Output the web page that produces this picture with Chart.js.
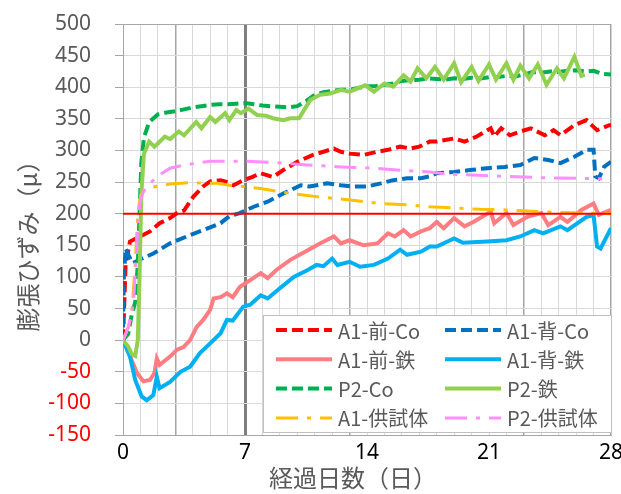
<!DOCTYPE html>
<html>
<head>
<meta charset="utf-8">
<script src="https://cdn.jsdelivr.net/npm/chart.js@4.4.1/dist/chart.umd.min.js"></script>
<style>
  html, body { margin: 0; background: #fff; }
  #wrap { width: 621px; height: 494px; position: relative; }
</style>
</head>
<body>
<div id="wrap"><canvas id="chart"></canvas></div>
<script>
// elapsed days / strain values
const a1FrontCoDays = [0, 0.15, 0.4, 1.0, 1.55, 2.1, 2.7, 3.1, 3.5, 4.04, 4.6, 5.0, 5.6, 6.0, 6.34, 6.9, 7.4, 7.9, 8.6, 9.2, 10, 10.9, 11.5, 12.1, 12.5, 13, 13.8, 14.6, 15.2, 15.9, 16.5, 17.0, 17.6, 18, 19, 19.6, 20.3, 21.1, 21.3, 21.7, 22.2, 22.8, 23.4, 24.2, 24.7, 25.1, 25.9, 26.6, 27.2, 27.9, 28];
const a1FrontCoVals = [0, 120, 156, 164, 172, 185, 193, 201, 205, 227, 243, 251, 253, 250, 245, 253, 258, 264, 258, 269, 282, 293, 298, 303, 298, 295, 293, 298, 301, 306, 303, 306, 314, 314, 319, 314, 322, 335, 322, 335, 324, 330, 335, 324, 332, 324, 340, 348, 332, 340, 340];

const a1BackCoDays = [0, 0.05, 0.15, 0.3, 0.55, 0.8, 1.0, 1.74, 2.7, 3.66, 4.6, 5.6, 6.1, 6.7, 7.1, 7.5, 8.3, 9.2, 10.2, 10.7, 11.7, 12.5, 13.2, 14, 14.8, 15.5, 16.3, 17.1, 17.6, 18, 19, 19.9, 20.9, 21.9, 22.8, 23.6, 24.4, 25.1, 25.9, 26.6, 27.0, 27.1, 27.3, 27.6, 28];
const a1BackCoVals = [20, 100, 145, 135, 122, 125, 128, 137, 153, 164, 174, 185, 196, 201, 206, 211, 219, 232, 245, 243, 248, 245, 243, 243, 248, 253, 256, 256, 259, 264, 266, 269, 272, 274, 277, 288, 285, 280, 290, 301, 301, 259, 256, 274, 282];

const a1FrontFeDays = [0, 0.4, 0.8, 1.17, 1.55, 1.8, 1.94, 2.1, 2.7, 3.1, 3.47, 3.85, 4.23, 4.6, 5.0, 5.2, 5.6, 5.96, 6.3, 6.7, 7.3, 7.9, 8.3, 8.8, 9.6, 10.6, 11.3, 12.1, 12.5, 13, 13.8, 14.6, 15.2, 15.6, 16.1, 16.5, 17.1, 17.6, 18, 18.4, 19, 19.6, 20.1, 21.1, 21.3, 22, 22.4, 23.2, 24, 24.4, 25.1, 25.5, 26.3, 27, 27.3, 28];
const a1FrontFeVals = [0, -25, -52, -65, -63, -52, -29, -39, -26, -15, -11, 0, 21, 32, 48, 66, 68, 74, 68, 84, 95, 106, 98, 111, 127, 142, 153, 164, 153, 158, 150, 153, 169, 164, 174, 164, 172, 177, 187, 177, 193, 180, 187, 203, 185, 201, 182, 195, 201, 182, 195, 187, 206, 216, 198, 206];

const a1BackFeDays = [0, 0.4, 0.7, 1.07, 1.36, 1.74, 1.94, 2.1, 2.7, 3.3, 3.85, 4.4, 5.0, 5.6, 5.96, 6.3, 6.9, 7.3, 7.9, 8.3, 9, 9.8, 10.6, 11.1, 11.5, 12, 12.3, 13, 13.6, 14.4, 15.2, 15.9, 16.3, 17.1, 17.6, 18, 19, 19.5, 20.9, 22, 22.8, 23.6, 24.1, 25.1, 25.5, 26.6, 27.0, 27.2, 27.4, 28];
const a1BackFeVals = [0, -26, -63, -89, -95, -87, -58, -76, -66, -50, -42, -21, -5, 11, 32, 31, 53, 56, 71, 66, 82, 100, 111, 119, 117, 129, 119, 124, 116, 119, 129, 143, 135, 140, 148, 148, 161, 154, 156, 158, 164, 174, 169, 180, 174, 195, 198, 148, 145, 177];

const p2CoDays = [0, 0.3, 0.5, 0.7, 0.85, 0.95, 1.05, 1.2, 1.5, 2, 2.5, 3, 3.5, 4, 4.5, 5, 5.5, 6, 6.5, 7, 7.5, 8, 8.5, 9, 9.5, 10, 10.5, 11, 11.5, 12, 12.5, 13, 13.5, 14, 14.5, 15, 15.5, 16, 16.5, 17, 17.5, 18, 18.5, 19, 19.5, 20, 20.5, 21, 21.5, 22, 22.5, 23, 23.5, 24, 24.5, 25, 25.5, 26, 26.5, 27, 27.5, 28];
const p2CoVals = [0, 10, 40, 60, 120, 200, 280, 320, 345, 357, 360, 362, 365, 368, 370, 372, 373, 373, 374, 375, 373, 371, 370, 369, 368, 370, 378, 388, 392, 394, 396, 396, 399, 401, 402, 404, 406, 410, 411, 412, 414, 413, 412, 414, 413, 415, 414, 416, 416, 418, 417, 420, 424, 423, 425, 424, 426, 427, 425, 426, 421, 420];

const p2FeDays = [0, 0.3, 0.5, 0.7, 0.85, 0.95, 1.05, 1.2, 1.5, 1.8, 2.0, 2.4, 2.7, 3.2, 3.5, 4.2, 4.5, 5.0, 5.3, 5.86, 6.1, 6.5, 6.75, 7.2, 7.7, 8.2, 8.6, 9.2, 9.6, 10.1, 10.75, 11.3, 11.9, 12.5, 13, 13.9, 14.4, 15, 15.5, 16.1, 16.5, 16.9, 17.4, 17.9, 18.4, 19.0, 19.4, 20.0, 20.4, 21.0, 21.4, 22.0, 22.4, 22.8, 23.3, 23.8, 24.3, 24.9, 25.3, 25.9, 26.3, 26.5];
const p2FeVals = [0, -10, -22, -25, 0, 100, 230, 295, 314, 306, 311, 322, 318, 330, 324, 345, 335, 353, 345, 359, 348, 364, 359, 366, 356, 355, 351, 348, 351, 351, 380, 388, 390, 396, 393, 403, 393, 406, 401, 419, 409, 430, 414, 432, 412, 438, 408, 432, 410, 436, 412, 438, 412, 434, 414, 436, 404, 430, 414, 448, 418, 420];

const a1SpecDays = [0, 0.3, 0.5, 0.7, 0.85, 1.0, 1.3, 2.1, 2.7, 3.7, 5.4, 6.1, 6.9, 7.9, 9.6, 11.1, 12.9, 14.8, 16.3, 17.6, 19, 20.5, 22, 23.5, 25, 26.5, 28];
const a1SpecVals = [0, 20, 40, 120, 200, 228, 240, 244, 247, 249, 248, 245, 243, 240, 232, 227, 222, 216, 214, 211, 209, 207, 206, 204, 202, 201, 200];

const p2SpecDays = [0, 0.3, 0.6, 0.8, 0.9, 1.0, 1.2, 1.9, 2.7, 3.5, 5, 6.9, 8.6, 10.6, 12.5, 14.4, 16.3, 17.6, 18.5, 20, 22, 24, 26, 27.5];
const p2SpecVals = [0, 20, 60, 150, 200, 222, 237, 258, 272, 277, 283, 283, 281, 277, 274, 272, 268, 266, 263, 261, 259, 257, 256, 255];

const limitDays = [0, 28];
const limitVals = [200, 200];

const seriesNames = ['A1-前-Co', 'A1-背-Co', 'A1-前-鉄', 'A1-背-鉄', 'P2-Co', 'P2-鉄', 'A1-供試体', 'P2-供試体'];

function pts(days, vals) {
  return days.map((d, i) => ({ x: d, y: vals[i] }));
}

const dash = [11, 5];
const dashDot = [22, 9, 4, 9];

const datasets = [
  { label: seriesNames[0], data: pts(a1FrontCoDays, a1FrontCoVals), borderColor: '#ff0000', borderDash: dash, borderWidth: 4 },
  { label: seriesNames[1], data: pts(a1BackCoDays, a1BackCoVals), borderColor: '#0070c0', borderDash: dash, borderWidth: 4 },
  { label: seriesNames[2], data: pts(a1FrontFeDays, a1FrontFeVals), borderColor: '#ff7c80', borderWidth: 4 },
  { label: seriesNames[3], data: pts(a1BackFeDays, a1BackFeVals), borderColor: '#00b0f0', borderWidth: 4 },
  { label: seriesNames[4], data: pts(p2CoDays, p2CoVals), borderColor: '#00b050', borderDash: dash, borderWidth: 4 },
  { label: seriesNames[5], data: pts(p2FeDays, p2FeVals), borderColor: '#92d050', borderWidth: 4 },
  { label: seriesNames[6], data: pts(a1SpecDays, a1SpecVals), borderColor: '#ffc000', borderDash: dashDot, borderWidth: 3 },
  { label: seriesNames[7], data: pts(p2SpecDays, p2SpecVals), borderColor: '#ff8fff', borderDash: dashDot, borderWidth: 3 },
  { label: 'limit', data: pts(limitDays, limitVals), borderColor: '#ff0000', borderWidth: 2, noLegend: true }
].map((ds, i, all) => ({ ...ds, order: all.length - i, pointRadius: 0, tension: 0, fill: false }));

const darkDays = [3, 13, 23, 28];

const insideLegend = {
  id: 'insideLegend',
  afterDatasetsDraw(chart) {
    const { ctx, chartArea } = chart;
    const items = chart.data.datasets.filter((ds) => !ds.noLegend);
    const left = chartArea.left + 140;
    const top = chartArea.bottom - 120;
    const width = chartArea.right - left + 1;
    const height = 118;
    ctx.save();
    ctx.fillStyle = '#fff';
    ctx.fillRect(left, top, width, height);
    ctx.strokeStyle = '#bfbfbf';
    ctx.lineWidth = 1;
    ctx.strokeRect(left + 0.5, top + 0.5, width - 1, height - 1);
    ctx.font = '20px "Noto Sans CJK JP"';
    ctx.textBaseline = 'middle';
    items.forEach((ds, i) => {
      const col = i % 2;
      const row = Math.floor(i / 2);
      const x = left + 13 + col * 169;
      const y = top + 15 + row * 29.3;
      ctx.strokeStyle = ds.borderColor;
      ctx.lineWidth = ds.borderWidth;
      ctx.setLineDash(ds.borderDash || []);
      ctx.beginPath();
      ctx.moveTo(x, y);
      ctx.lineTo(x + 56, y);
      ctx.stroke();
      ctx.setLineDash([]);
      ctx.fillStyle = '#595959';
      ctx.fillText(ds.label, x + 62, y + 1);
    });
    ctx.restore();
  }
};

const axisTitles = {
  id: 'axisTitles',
  afterDraw(chart) {
    const { ctx } = chart;
    ctx.save();
    ctx.fillStyle = '#595959';
    ctx.font = '24px "Noto Sans CJK JP"';
    ctx.textAlign = 'center';
    ctx.textBaseline = 'middle';
    ctx.fillText('経過日数（日）', 353, 478);
    ctx.translate(28, 240);
    ctx.rotate(-Math.PI / 2);
    ctx.fillText('膨張ひずみ（μ）', 0, 0);
    ctx.restore();
  }
};

new Chart(document.getElementById('chart'), {
  type: 'line',
  data: { datasets },
  plugins: [insideLegend, axisTitles],
  options: {
    responsive: true,
    maintainAspectRatio: false,
    animation: false,
    layout: { padding: { top: 24, right: 10, left: 0, bottom: 0 } },
    plugins: { legend: { display: false }, tooltip: { enabled: false } },
    scales: {
      x: {
        type: 'linear',
        min: 0,
        max: 28,
        afterFit: (scale) => {
          scale.height = 59;
          scale.paddingLeft = 0;
          scale.paddingRight = 0;
        },
        ticks: {
          stepSize: 1,
          autoSkip: false,
          maxRotation: 0,
          padding: 5,
          color: '#000',
          font: { family: 'Noto Sans', size: 21 },
          callback: (v) => (v % 7 === 0 ? v : '')
        },
        grid: {
          drawTicks: false,
          color: (c) => (c.tick.value === 7 ? '#7f7f7f' : darkDays.includes(c.tick.value) ? '#a6a6a6' : '#d9d9d9'),
          lineWidth: (c) => (c.tick.value === 7 ? 3 : darkDays.includes(c.tick.value) ? 1.5 : 1)
        },
        border: { color: '#a6a6a6' }
      },
      y: {
        min: -150,
        max: 500,
        afterFit: (scale) => {
          scale.width = 123;
          scale.paddingTop = 0;
          scale.paddingBottom = 0;
        },
        ticks: {
          stepSize: 50,
          padding: 24,
          color: (c) => (c.tick.value < 0 ? '#ff0000' : '#595959'),
          font: { family: 'Noto Sans', size: 21 }
        },
        grid: {
          tickLength: 8,
          tickColor: '#a6a6a6',
          color: (c) => (c.tick.value === 500 ? '#a6a6a6' : '#d9d9d9')
        },
        border: { color: '#a6a6a6' }
      }
    }
  }
});
</script>
</body>
</html>
